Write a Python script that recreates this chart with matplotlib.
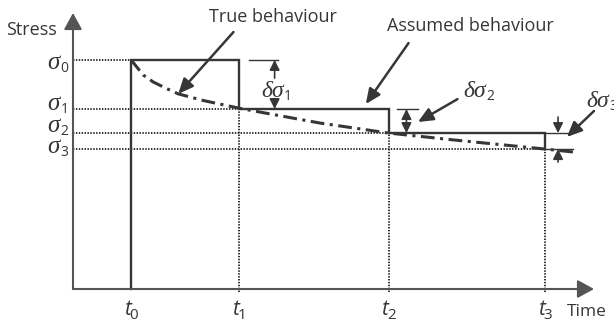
from matplotlib import pyplot as plt

plt.rcParams['font.family'] = ['Open Sans', 'DejaVu Sans']

# instants where the stress is re-evaluated and the assumed stress from each
t_steps = [1.115, 3.19, 6.06, 9.06]
sigma_steps = [8.30, 6.52, 5.65, 5.07]
step_names = ['0', '1', '2', '3']

# true (relaxing) stress
t_true = [1.115, 1.35, 1.54, 1.81, 2.02, 2.50, 3.19, 3.79, 4.75, 6.06, 7.31, 9.06, 9.62]
sigma_true = [8.30, 7.75, 7.50, 7.25, 7.07, 6.83, 6.55, 6.34, 6.01, 5.65, 5.40, 5.07, 4.96]

ink = '#363636'
axis_col = '#555555'
serif_it = dict(family='Liberation Serif', style='italic')
sans_it = dict(family='Open Sans', style='italic')

fig = plt.figure(figsize=(6.14, 3.23), dpi=100)
ax = fig.add_axes([73 / 614, 34 / 323, 521 / 614, 276 / 323])
ax.set_xlim(0, 10)
ax.set_ylim(0, 10)
ax.axis('off')


def sub_label(x, y, main, sub, size, sub_size, font, drop, dx=0.5):
    # symbol ends at x, subscript starts there, both on baseline y
    ax.text(x, y, main, ha='right', va='baseline', fontsize=size, color=ink, **font)
    ax.annotate(sub, (x, y), xytext=(dx, -drop), textcoords='offset points',
                ha='left', va='baseline', fontsize=sub_size, color=ink,
                annotation_clip=False)


# axes with arrow heads
axis_arrow = dict(arrowstyle='-|>,head_length=1.0,head_width=0.55', mutation_scale=10,
                  lw=1.5, color=axis_col, shrinkA=0, shrinkB=0)
ax.annotate('', xy=(0, 10), xytext=(0, 0), arrowprops=axis_arrow, annotation_clip=False)
ax.annotate('', xy=(10, 0), xytext=(0, 0), arrowprops=axis_arrow, annotation_clip=False)
ax.text(-0.31, 9.38, 'Stress', ha='right', va='center', fontsize=13, color=ink)
ax.text(9.48, -0.98, 'Time', ha='left', va='baseline', fontsize=12.5, color=ink)

dots = (0, (0.8, 0.8))
sigma_baseline = [7.97, 6.49, 5.69, 4.93]
for i in range(len(t_steps)):
    ax.plot([0, t_steps[i]], [sigma_steps[i], sigma_steps[i]], color='#222222', lw=1.3,
            linestyle=dots, clip_on=False)
    if i > 0:
        ax.plot([t_steps[i], t_steps[i]], [-0.12, sigma_steps[i]], color='#222222', lw=1.3,
                linestyle=dots, clip_on=False)
    sub_label(-0.25, sigma_baseline[i], '\u03c3', step_names[i], 18, 10, serif_it, 2.2)
    sub_label(t_steps[i] - 0.01, -0.95, 't', step_names[i], 15, 11, sans_it, 2.5, dx=-1)

# assumed behaviour: stress held constant over each interval
step_x = [t_steps[0]]
step_y = [0]
for i in range(len(t_steps)):
    step_x.append(t_steps[i])
    step_y.append(sigma_steps[i])
    if i + 1 < len(t_steps):
        step_x.append(t_steps[i + 1])
        step_y.append(sigma_steps[i])
ax.plot(step_x, step_y, color=ink, lw=1.7, solid_joinstyle='miter', clip_on=False)

# true behaviour
ax.plot(t_true, sigma_true, color=ink, lw=2.2, linestyle=(0, (4.5, 1.8, 1.0, 1.8)),
        dash_capstyle='butt', clip_on=False)


def pointer(tail, head):
    ax.annotate('', xy=head, xytext=tail, annotation_clip=False,
                arrowprops=dict(arrowstyle='-|>,head_length=0.9,head_width=0.4',
                                mutation_scale=10, lw=1.8, color=ink,
                                shrinkA=0, shrinkB=0))


def dim_arrow(x, y0, y1, style='-|>'):
    ax.annotate('', xy=(x, y1), xytext=(x, y0), annotation_clip=False,
                arrowprops=dict(arrowstyle=style + ',head_length=0.6,head_width=0.3',
                                mutation_scale=10, lw=1.2, color=ink,
                                shrinkA=0, shrinkB=0))


ax.text(3.83, 9.86, 'True behaviour', ha='center', va='center', fontsize=13, color=ink)
pointer((3.08, 9.31), (t_true[4], sigma_true[4]))

ax.text(7.62, 9.53, 'Assumed behaviour', ha='center', va='center', fontsize=13, color=ink)
pointer((6.44, 8.91), (5.62, 6.70))

# delta sigma 1
t1 = t_steps[1]
ax.plot([t1 + 0.18, t1 + 0.75], [sigma_steps[0], sigma_steps[0]], color=ink, lw=1.0)
dim_arrow(t1 + 0.68, 7.64, sigma_steps[0])
dim_arrow(t1 + 0.68, 6.90, sigma_steps[1])
sub_label(4.04, 6.96, '\u03b4\u03c3', '1', 17, 10, serif_it, 2.2)

# delta sigma 2
t2 = t_steps[2]
ax.plot([t2 + 0.15, t2 + 0.56], [sigma_steps[1], sigma_steps[1]], color=ink, lw=1.0)
dim_arrow(t2 + 0.34, sigma_steps[1], sigma_steps[2], style='<|-|>')
sub_label(7.92, 6.96, '\u03b4\u03c3', '2', 17, 10, serif_it, 2.2)
pointer((7.38, 6.88), (6.62, 6.05))

# delta sigma 3
t3 = t_steps[3]
ax.plot([t3, t3 + 0.46], [sigma_steps[2], sigma_steps[2]], color=ink, lw=1.0)
ax.plot([t3, t3 + 0.54], [sigma_steps[3], sigma_steps[3]], color=ink, lw=1.0)
dim_arrow(t3 + 0.25, 6.23, sigma_steps[2])
dim_arrow(t3 + 0.25, 4.60, sigma_steps[3])
sub_label(10.29, 6.59, '\u03b4\u03c3', '3', 17, 10, serif_it, 2.2)
pointer((10.0, 6.45), (9.48, 5.51))

fig.savefig('out.png', dpi=100)
